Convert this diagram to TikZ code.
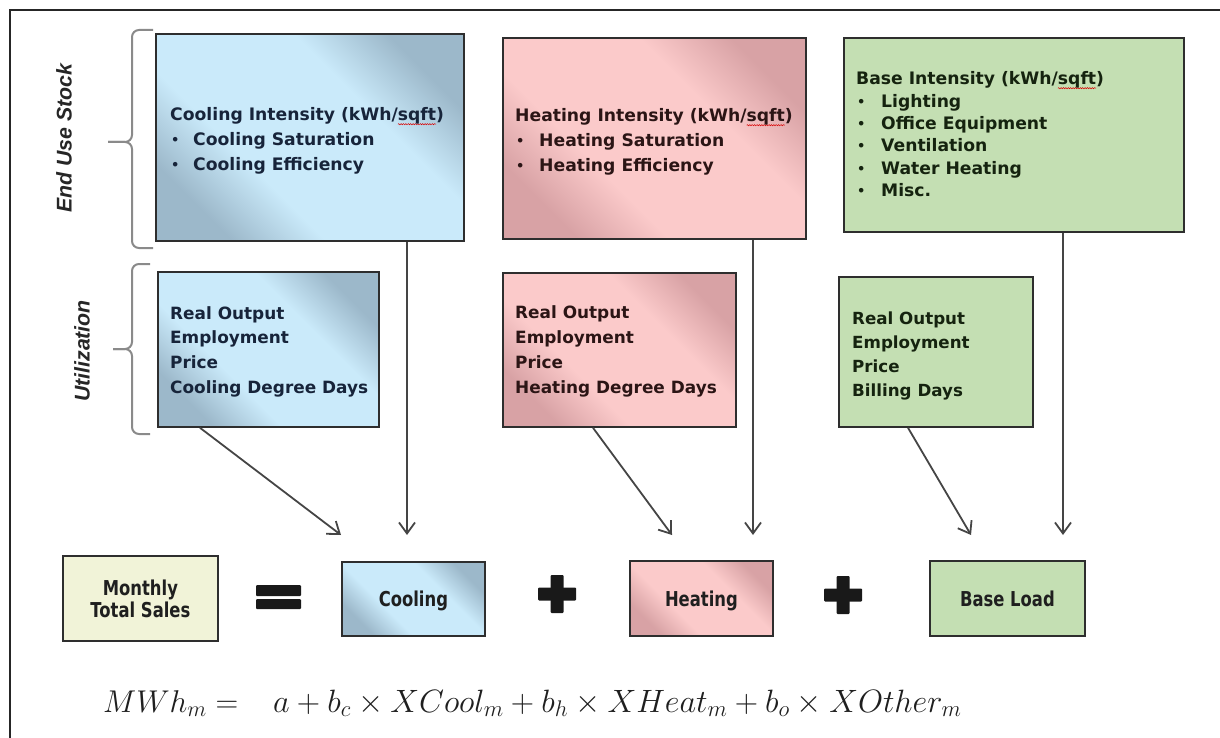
\RequirePackage{fix-cm}
\documentclass[tikz,border=0pt]{standalone}
\usepackage{fontspec}
\newfontfamily\boxfont{DejaVu Sans}
\newfontfamily\condfont[FakeStretch=0.8]{DejaVu Sans}
\newfontfamily\labfont{Liberation Sans}
\usetikzlibrary{arrows.meta,decorations.pathmorphing,calc}
\definecolor{cdk}{HTML}{9CB8CA}
\definecolor{clt}{HTML}{CAEAFA}
\definecolor{hdk}{HTML}{D8A2A5}
\definecolor{hlt}{HTML}{FBCACA}
\definecolor{gfill}{HTML}{C4DFB3}
\definecolor{yfill}{HTML}{F1F3D8}
\definecolor{edge}{HTML}{2E2E2E}
\definecolor{arr}{HTML}{454545}
\definecolor{brc}{HTML}{8A8A8A}
\definecolor{ctxt}{HTML}{17243A}
\definecolor{htxt}{HTML}{2B1515}
\definecolor{gtxt}{HTML}{15230F}
\pgfdeclareverticalshading{coolsh}{100bp}{color(0bp)=(cdk); color(25bp)=(cdk); color(38bp)=(clt); color(62bp)=(clt); color(75bp)=(cdk); color(100bp)=(cdk)}
\pgfdeclareverticalshading{heatsh}{100bp}{color(0bp)=(hdk); color(25bp)=(hdk); color(38bp)=(hlt); color(62bp)=(hlt); color(75bp)=(hdk); color(100bp)=(hdk)}
\newlength\splw
\newcommand\spl[1]{\settowidth\splw{#1}\rlap{\tikz[overlay]\draw[red!85!black, line width=0.5pt, decorate, decoration={snake, amplitude=0.6pt, segment length=2.4pt}] (0pt,-3.2pt) -- (\splw,-3.2pt);}#1}
\newcommand\bul[1]{\makebox[#1][l]{\hspace{1pt}\raisebox{1pt}{\fontsize{13}{13}\selectfont\textbullet}}}
\newcommand\rows[1]{\vtop{#1}}
\begin{document}
\begin{tikzpicture}[x=1pt,y=-1pt,
  box/.style={draw=edge, line width=1.8pt, inner sep=0pt, anchor=north west},
  coolbox/.style={box, shade, shading=coolsh, shading angle=-45},
  heatbox/.style={box, shade, shading=heatsh, shading angle=-45},
  greenbox/.style={box, fill=gfill},
  yelbox/.style={box, fill=yfill},
  txt/.style={font=\boxfont\bfseries\fontsize{17.2}{24.7}\selectfont, anchor=base west, inner sep=0pt},
  btxt/.style={font=\condfont\bfseries\fontsize{20.5}{22}\selectfont, align=center, text=black!88},
  arrowst/.style={draw=arr, line width=1.8pt, -{Straight Barb[length=11pt,width=16pt]}},
  bracest/.style={draw=brc, line width=2pt, rounded corners=7pt},
  side/.style={font=\labfont\bfseries\itshape\fontsize{21.3}{24}\selectfont, rotate=90, text=black!85},
  eq/.style={font=\fontsize{31.5}{36}\selectfont, text=black!88, inner sep=0pt, anchor=base west},
  signst/.style={fill=black!90}
]
\useasboundingbox (0,0) rectangle (1220,738);
\begin{scope}
  \clip (0,0) rectangle (1220,738);
  \draw[line width=2.8pt, draw=black!85] (10,10) rectangle (1260,780);
\end{scope}

% braces and side labels
\draw[bracest] (153,30) -- (132,30) -- (132,142) -- (108,142);
\draw[bracest] (108,142) -- (132,142) -- (132,248) -- (153,248);
\draw[bracest] (150,264) -- (132,264) -- (132,349) -- (113,349);
\draw[bracest] (113,349) -- (132,349) -- (132,434) -- (150,434);
\node[side] (lab1) at (64,138) {End Use Stock};
\node[side] (lab2) at (82,351) {Utilization};

% end use stock boxes
\node[coolbox, minimum width=308pt, minimum height=207pt] (cs) at (155,33) {};
\node[heatbox, minimum width=303pt, minimum height=201pt] (hs) at (502,37) {};
\node[greenbox, minimum width=340pt, minimum height=194pt] (bs) at (843,37) {};
\node[txt, text=ctxt] (csT) at (170,121) {\rows{\hbox{Cooling Intensity (kWh/\spl{sqft})}\hbox{\bul{23pt}Cooling Saturation}\hbox{\bul{23pt}Cooling Efficiency}}};
\node[txt, text=htxt] (hsT) at (515,122) {\rows{\hbox{Heating Intensity (kWh/\spl{sqft})}\hbox{\bul{24pt}Heating Saturation}\hbox{\bul{24pt}Heating Efficiency}}};
\node[txt, text=gtxt, font=\boxfont\bfseries\fontsize{17.2}{22.3}\selectfont] (bsT) at (856,85) {\rows{\hbox{Base Intensity (kWh/\spl{sqft})}\hbox{\bul{25pt}Lighting}\hbox{\bul{25pt}Office Equipment}\hbox{\bul{25pt}Ventilation}\hbox{\bul{25pt}Water Heating}\hbox{\bul{25pt}Misc.}}};

% utilization boxes
\node[coolbox, minimum width=221pt, minimum height=155pt] (cu) at (157,271) {};
\node[heatbox, minimum width=233pt, minimum height=154pt] (hu) at (502,272) {};
\node[greenbox, minimum width=194pt, minimum height=150pt] (bu) at (838,276) {};
\node[txt, text=ctxt, font=\boxfont\bfseries\fontsize{16.9}{24.9}\selectfont] (cuT) at (170,319) {\rows{\hbox{Real Output}\hbox{Employment}\hbox{Price}\hbox{Cooling Degree Days}}};
\node[txt, text=htxt, font=\boxfont\bfseries\fontsize{16.9}{25}\selectfont] (huT) at (515,318) {\rows{\hbox{Real Output}\hbox{Employment}\hbox{Price}\hbox{Heating Degree Days}}};
\node[txt, text=gtxt, font=\boxfont\bfseries\fontsize{16.7}{24.3}\selectfont] (buT) at (852,324) {\rows{\hbox{Real Output}\hbox{Employment}\hbox{Price}\hbox{Billing Days}}};

% bottom row
\node[yelbox, btxt, minimum width=155pt, minimum height=85pt] (mt) at (62,555) {Monthly\\Total Sales};
\node[coolbox, btxt, text depth=0pt, minimum width=143pt, minimum height=74pt] (cb) at (341,561) {Cooling};
\node[heatbox, btxt, text depth=0pt, minimum width=143pt, minimum height=75pt] (hb) at (629,560) {Heating};
\node[greenbox, btxt, text depth=0pt, minimum width=155pt, minimum height=75pt] (bl) at (929,560) {Base Load};

% equals and plus signs
\fill[signst, rounded corners=1pt] (256,585) rectangle (301,596);
\fill[signst, rounded corners=1pt] (256,599) rectangle (301,609);
\foreach \cx/\cy in {557/594, 843/595} {
  \fill[signst, rounded corners=1pt] (\cx-19,\cy-6.5) rectangle (\cx+19,\cy+6.5);
  \fill[signst, rounded corners=1pt] (\cx-6.5,\cy-19) rectangle (\cx+6.5,\cy+19);
}

% arrow end points
\coordinate (cbA) at ([yshift=26pt]cb.north west);
\coordinate (cbB) at ([xshift=66pt,yshift=26pt]cb.north west);
\coordinate (hbA) at ([xshift=43pt,yshift=25pt]hb.north west);
\coordinate (hbB) at ([xshift=124pt,yshift=25pt]hb.north west);
\coordinate (blA) at ([xshift=42pt,yshift=25pt]bl.north west);
\coordinate (blB) at ([xshift=134pt,yshift=25pt]bl.north west);

\draw[arrowst] ([xshift=43pt]cu.south west) -- (cbA);
\draw[arrowst] (cs.south -| cbB) -- (cbB);
\draw[arrowst] ([xshift=91pt]hu.south west) -- (hbA);
\draw[arrowst] (hs.south -| hbB) -- (hbB);
\draw[arrowst] ([xshift=70pt]bu.south west) -- (blA);
\draw[arrowst] (bs.south -| blB) -- (blB);

% formula
\node[eq] (eqL) at (103,712) {$MWh_m =$};
\node[eq, font=\fontsize{32.3}{36}\selectfont] (eqR) at (273,712) {$a + b_c \times XCool_m + b_h \times XHeat_m + b_o \times XOther_m$};
\end{tikzpicture}
\end{document}
